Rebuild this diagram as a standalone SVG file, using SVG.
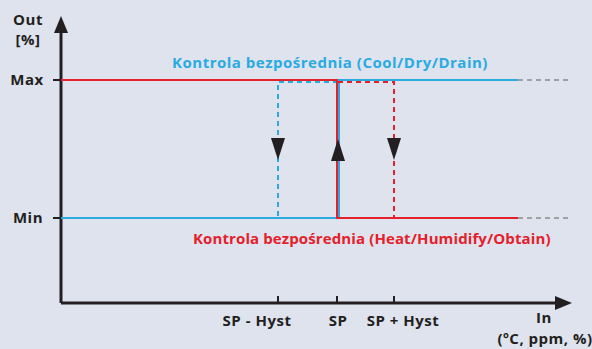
<svg xmlns="http://www.w3.org/2000/svg" width="592" height="349" viewBox="0 0 592 349">
  <style>
    text { font-family: "Open Sans", "DejaVu Sans", sans-serif; font-weight: 700; font-size: 15px; letter-spacing: 0.5px; fill: #231f20; }
    .blue { stroke: #29abe2; stroke-width: 2; fill: none; }
    .red { stroke: #e4202b; stroke-width: 2; fill: none; }
    .dash { stroke-dasharray: 5 4; }
    .grey { stroke: #8a8a8a; stroke-width: 1.5; stroke-dasharray: 5 4; fill: none; }
    .axis { stroke: #231f20; stroke-width: 3; fill: none; }
    .tick { stroke: #231f20; stroke-width: 2; }
    .head { fill: #231f20; }
  </style>
  <rect width="592" height="349" fill="#dfe3ee"/>

  <!-- axes -->
  <g id="axes">
    <path class="axis" d="M61,303 V30 M61,303 H558"/>
    <polygon class="head" points="61,16 54,33 68,33"/>
    <polygon class="head" points="572,303 555,296 555,310"/>
    <line class="tick" x1="53" y1="80" x2="61" y2="80"/>
    <line class="tick" x1="53" y1="218" x2="61" y2="218"/>
    <line class="tick" x1="278" y1="296" x2="278" y2="303"/>
    <line class="tick" x1="337" y1="296" x2="337" y2="303"/>
    <line class="tick" x1="394" y1="296" x2="394" y2="303"/>
  </g>

  <!-- axis labels -->
  <g id="labels">
    <text x="28" y="25" text-anchor="middle">Out</text>
    <text x="28" y="45" text-anchor="middle">[%]</text>
    <text x="27" y="85" text-anchor="middle">Max</text>
    <text x="28" y="223" text-anchor="middle">Min</text>
    <text x="257" y="326" text-anchor="middle">SP - Hyst</text>
    <text x="338" y="326" text-anchor="middle">SP</text>
    <text x="403" y="326" text-anchor="middle">SP + Hyst</text>
    <text x="544" y="323" text-anchor="middle">In</text>
    <text x="545" y="344" text-anchor="middle">(ºC, ppm, %)</text>
  </g>

  <!-- curves -->
  <g id="connectors">
    <path class="grey" d="M518,80 H570 M518,218 H570"/>
    <!-- direct control, cooling (blue) -->
    <path class="blue" d="M61,218 H339 V80 H518"/>
    <path class="blue dash" d="M338,82 H278 V218"/>
    <!-- direct control, heating (red) -->
    <path class="red" d="M61,80 H337 V218 H518"/>
    <path class="red dash" d="M338,82 H394 V218"/>
    <polygon class="head" points="278,160 271,138 285,138"/>
    <polygon class="head" points="338,139 331,161 345,161"/>
    <polygon class="head" points="394,160 387,138 401,138"/>
  </g>

  <g id="curve-labels">
    <text x="330" y="68" text-anchor="middle" style="fill:#29abe2">Kontrola bezpośrednia (Cool/Dry/Drain)</text>
    <text x="193" y="244" textLength="358" lengthAdjust="spacing" style="fill:#e4202b">Kontrola bezpośrednia (Heat/Humidify/Obtain)</text>
  </g>
</svg>
